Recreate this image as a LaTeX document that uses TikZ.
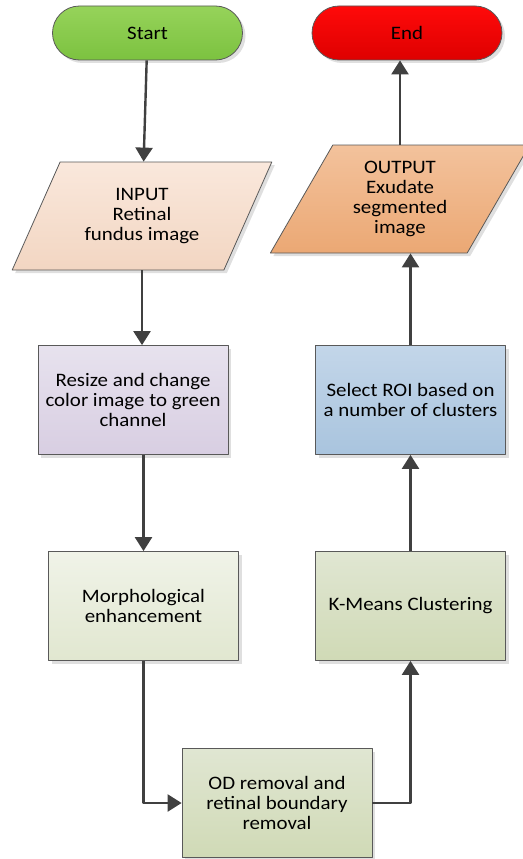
\documentclass[tikz,border=0pt]{standalone}
\usepackage{fontspec}
\setmainfont{Carlito}[FakeStretch=1.1]
\usetikzlibrary{arrows.meta,shapes.geometric,shadows}

\definecolor{boxline}{HTML}{595959}
\definecolor{arrowgray}{HTML}{404040}

\begin{document}
\begin{tikzpicture}[x=1pt,y=-1pt,line join=round,font=\fontsize{19}{19.7}\selectfont,
	box/.style={draw=boxline,line width=0.8pt,minimum width=190pt,minimum height=109pt,align=center,
		drop shadow={shadow xshift=3pt,shadow yshift=-3pt,opacity=0.25,fill=gray}},
	term/.style={box,rounded corners=27pt,minimum height=54pt},
	io/.style={box,trapezium,trapezium left angle=60,trapezium right angle=120,
		trapezium stretches=true,minimum width=260pt,minimum height=108pt},
	flow/.style={-{Triangle[length=14pt,width=17pt]},draw=arrowgray,line width=2.4pt}]
	\useasboundingbox (0,0) rectangle (522,859);
	\def\xleft{143.5}
	\def\xright{410.5}
	\node[term,top color={rgb,255:red,150;green,211;blue,90},bottom color={rgb,255:red,124;green,194;blue,64}] (start) at (147.5,33) {Start};
	\node[term,top color={rgb,255:red,255;green,10;blue,10},bottom color={rgb,255:red,222;green,0;blue,0}] (stop) at (407,33) {End};
	\node[io,top color={rgb,255:red,250;green,232;blue,220},bottom color={rgb,255:red,242;green,214;blue,194}] (input) at (142,216) {INPUT\\Retinal\\fundus image};
	\node[io,top color={rgb,255:red,243;green,194;blue,156},bottom color={rgb,255:red,235;green,168;blue,116}] (output) at (400,199) {OUTPUT\\Exudate\\segmented\\image};
	\node[box,top color={rgb,255:red,231;green,226;blue,238},bottom color={rgb,255:red,216;green,206;blue,226}] (resize) at (133,400) {Resize and change\\color image to green\\channel};
	\node[box,top color={rgb,255:red,195;green,214;blue,233},bottom color={rgb,255:red,169;green,196;blue,222}] (roi) at (\xright,400) {Select ROI based on\\a number of clusters};
	\node[box,top color={rgb,255:red,240;green,243;blue,232},bottom color={rgb,255:red,225;green,231;blue,208}] (morph) at (\xleft,606) {Morphological\\enhancement};
	\node[box,top color={rgb,255:red,224;green,230;blue,210},bottom color={rgb,255:red,208;green,218;blue,182}] (kmeans) at (\xright,606) {K-Means Clustering};
	\node[box,top color={rgb,255:red,224;green,230;blue,210},bottom color={rgb,255:red,208;green,218;blue,182}] (od) at (277,803) {OD removal and\\retinal boundary\\removal};
	\foreach \x/\y in {start/input,kmeans/roi}
	{
		\draw[flow] (\x)--(\y);
	}
	\draw[flow] (input.south)--(input.south |- resize.north);
	\draw[flow] (morph.north |- resize.south)--(morph.north);
	\draw[flow] (morph.south) |- (od.west);
	\draw[flow] (od.east) -| (kmeans.south);
	\draw[flow] (roi.north)--(roi.north |- output.south);
	\draw[flow] (output.north)--(output.north |- stop.south);
\end{tikzpicture}
\end{document}
